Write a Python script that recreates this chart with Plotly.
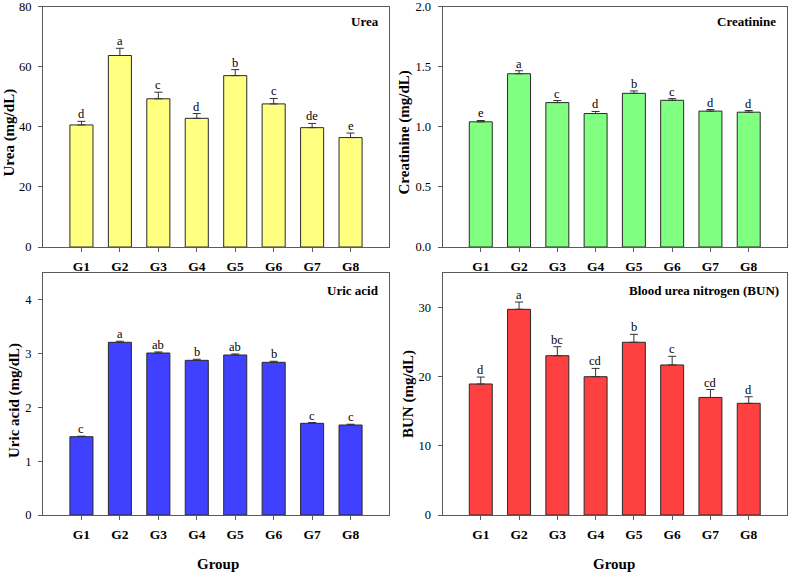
import plotly.graph_objects as go
from plotly.subplots import make_subplots

categories = ["G1", "G2", "G3", "G4", "G5", "G6", "G7", "G8"]

urea = [40.6, 63.7, 49.3, 42.8, 57.0, 47.6, 39.7, 36.4]
urea_err = [1.2, 2.4, 2.2, 1.6, 2.0, 1.8, 1.4, 1.5]
urea_sig = ["d", "a", "c", "d", "b", "c", "de", "e"]

creatinine = [1.041, 1.441, 1.201, 1.110, 1.278, 1.220, 1.130, 1.121]
creatinine_err = [0.011, 0.025, 0.017, 0.017, 0.020, 0.014, 0.013, 0.014]
creatinine_sig = ["e", "a", "c", "d", "b", "c", "d", "d"]

uric = [1.456, 3.211, 3.012, 2.876, 2.975, 2.839, 1.705, 1.673]
uric_err = [0.01, 0.02, 0.02, 0.02, 0.02, 0.02, 0.015, 0.015]
uric_sig = ["c", "a", "ab", "b", "ab", "b", "c", "c"]

bun = [18.95, 29.75, 23.04, 20.0, 24.98, 21.7, 17.0, 16.15]
bun_err = [1.0, 1.05, 1.3, 1.2, 1.15, 1.25, 1.15, 0.95]
bun_sig = ["d", "a", "bc", "cd", "b", "c", "cd", "d"]

W, H = 789, 574
FONT = "Liberation Serif"
AX = "#5a5a5a"

def px(x):
    return x / W

def py(y):
    return 1 - y / H

panels = [
    dict(vals=urea, err=urea_err, sig=urea_sig, color="#FFFF80", rng=[0, 80], dtick=20, fmt="",
         name="Urea", ytitle="Urea (mg/dL)", xd=[43, 389], yd=[6.5, 247],
         lab=(381, 21.7), tit=(8.5, 133)),
    dict(vals=creatinine, err=creatinine_err, sig=creatinine_sig, color="#80FF80", rng=[0, 2.0], dtick=0.5, fmt=".1f",
         name="Creatinine", ytitle="Creatinine (mg/dL)", xd=[442.5, 787], yd=[6.5, 247],
         lab=(778, 21.7), tit=(403.5, 133)),
    dict(vals=uric, err=uric_err, sig=uric_sig, color="#4040FF", rng=[0, 4.5], dtick=1, fmt="",
         name="Uric acid", ytitle="Uric acid (mg/dL)", xd=[43, 389], yd=[273, 515],
         lab=(381, 290), tit=(14, 401)),
    dict(vals=bun, err=bun_err, sig=bun_sig, color="#FF4040", rng=[0, 35], dtick=10, fmt="",
         name="Blood urea nitrogen (BUN)", ytitle="BUN (mg/dL)", xd=[442.5, 787], yd=[273, 515],
         lab=(781, 290), tit=(408, 394)),
]

fig = make_subplots(rows=2, cols=2)
annotations = []
for i, p in enumerate(panels):
    r, c = i // 2 + 1, i % 2 + 1
    fig.add_trace(go.Bar(
        x=categories, y=p["vals"], width=0.6,
        marker=dict(color=p["color"], line=dict(color="#2a2a2a", width=1)),
        error_y=dict(type="data", symmetric=False, array=p["err"],
                     arrayminus=[0] * len(p["err"]), color="#333333",
                     thickness=1, width=4),
        showlegend=False,
    ), row=r, col=c)
    sfx = "" if i == 0 else str(i + 1)
    fig.update_xaxes(
        domain=[px(p["xd"][0]), px(p["xd"][1])], automargin=False,
        type="category", categoryorder="array", categoryarray=categories,
        range=[-1, 8], showline=True, mirror=True, linecolor=AX, linewidth=1,
        ticks="outside", ticklen=4, tickcolor=AX, showgrid=False, zeroline=False,
        tickfont=dict(family=FONT, size=13.5, color="black", weight="bold"),
        ticklabelstandoff=3, ticklabeloverflow="allow",
        row=r, col=c)
    fig.update_yaxes(
        domain=[py(p["yd"][1]), py(p["yd"][0])], automargin=False,
        range=p["rng"], dtick=p["dtick"], tick0=0, tickformat=p["fmt"],
        showline=True, mirror=True, linecolor=AX, linewidth=1,
        ticks="outside", ticklen=4, tickcolor=AX, showgrid=False, zeroline=False,
        tickfont=dict(family=FONT, size=12.5, color="black"),
        ticklabelstandoff=4, ticklabeloverflow="allow",
        row=r, col=c)
    # significance letters
    for cat, v, e, s in zip(categories, p["vals"], p["err"], p["sig"]):
        annotations.append(dict(
            x=cat, y=v + e, xref="x" + sfx, yref="y" + sfx, text=s, showarrow=False,
            yanchor="bottom", yshift=-2, font=dict(family=FONT, size=12.5, color="black")))
    # panel label
    annotations.append(dict(
        x=px(p["lab"][0]), y=py(p["lab"][1]), xref="paper", yref="paper",
        text=p["name"], showarrow=False, xanchor="right", yanchor="middle",
        font=dict(family=FONT, size=13, color="black", weight="bold")))
    # y title
    annotations.append(dict(
        x=px(p["tit"][0]), y=py(p["tit"][1]), xref="paper", yref="paper",
        text=p["ytitle"], showarrow=False, textangle=-90,
        xanchor="center", yanchor="middle",
        font=dict(family=FONT, size=15, color="black", weight="bold")))

for gx in (217.5, 613.5):
    annotations.append(dict(
        x=px(gx), y=py(564), xref="paper", yref="paper", text="Group",
        showarrow=False, xanchor="center", yanchor="middle",
        font=dict(family=FONT, size=15, color="black", weight="bold")))

fig.update_layout(
    width=W, height=H, margin=dict(l=0, r=0, t=0, b=0, autoexpand=False),
    plot_bgcolor="white", paper_bgcolor="white",
    annotations=annotations, bargap=0.4,
    font=dict(family=FONT, color="black"),
)
fig.write_html(
    "out.html",
    config={"displayModeBar": False},
    post_script="document.body.style.margin='0';document.body.style.overflow='hidden';",
)
